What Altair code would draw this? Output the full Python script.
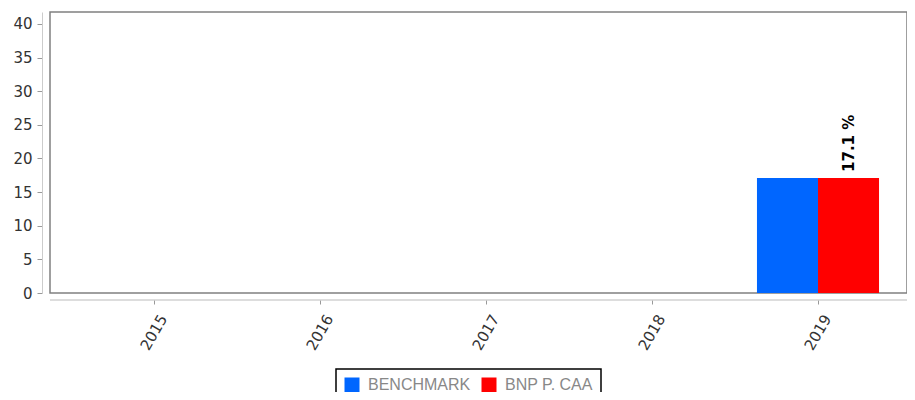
import altair as alt
import pandas as pd

years = ["2015", "2016", "2017", "2018", "2019"]
series = ["BENCHMARK", "BNP P. CAA"]
benchmark = [None, None, None, None, 17.1]
bnp = [None, None, None, None, 17.1]
colors = ["#0066FF", "#FF0000"]
y_ticks = [0, 5, 10, 15, 20, 25, 30, 35, 40]

rows = []
for i, yr in enumerate(years):
    rows.append({"year": yr, "series": series[0], "value": benchmark[i]})
    rows.append({"year": yr, "series": series[1], "value": bnp[i]})
df = pd.DataFrame(rows)
df_lab = df[(df["series"] == series[1]) & df["value"].notna()].copy()
df_lab["label"] = df_lab["value"].map(lambda v: f"{v:.1f} %")

W, H = 857, 281

xscale = alt.Scale(domain=years, paddingInner=0, paddingOuter=0, range=[21, 851])
offscale = alt.Scale(domain=series, paddingInner=0, paddingOuter=0.36)
yscale = alt.Scale(domain=[0, 41.78], nice=False, zero=True)

x_enc = alt.X("year:N", scale=xscale, title=None,
              axis=alt.Axis(labelAngle=-60, offset=7, domain=False,
                            tickColor="#999999", tickSize=4, labelFontSize=15,
                            labelAlign="center", labelBaseline="middle",
                            labelColor="#333333", labelFont="DejaVu Sans", labelPadding=28))
y_enc = alt.Y("value:Q", scale=yscale, title=None,
              axis=alt.Axis(values=y_ticks, labelOverlap=False, offset=8, grid=False,
                            domainColor="#cccccc", tickColor="#999999", tickSize=5,
                            labelFontSize=15, labelColor="#333333",
                            labelFont="DejaVu Sans", labelPadding=5))
off_enc = alt.XOffset("series:N", scale=offscale)

bars = alt.Chart(df).mark_bar(stroke=None).encode(
    x=x_enc,
    xOffset=off_enc,
    y=y_enc,
    color=alt.Color("series:N", scale=alt.Scale(domain=series, range=colors), title=None,
                    legend=alt.Legend(orient="none", legendX=286, legendY=357,
                                      direction="horizontal", symbolType="square",
                                      symbolSize=225, symbolStrokeWidth=0,
                                      labelFontSize=16, labelColor="#888888",
                                      labelFont="Liberation Sans", columnPadding=10,
                                      labelOffset=8, padding=8, strokeColor="#000000",
                                      symbolOpacity=1)),
)

labels = alt.Chart(df_lab).mark_text(angle=270, align="left", baseline="middle",
                                     dx=6, fontSize=15, fontWeight="bold",
                                     font="DejaVu Sans", color="#000000").encode(
    x=x_enc,
    xOffset=off_enc,
    y=y_enc,
    text="label:N",
)

xline = alt.Chart(pd.DataFrame({"k": [0]})).mark_rule(color="#bbbbbb", strokeWidth=1).encode(
    x=alt.value(0), x2=alt.value(W), y=alt.value(H + 7))

chart = alt.layer(bars, labels, xline).properties(
    width=W, height=H,
    autosize=alt.AutoSizeParams(type="none"),
    padding={"left": 42, "top": 4, "right": 0, "bottom": 99},
).configure_view(stroke="#808080", strokeWidth=1.5).configure_legend(
    strokeWidth=1.5, cornerRadius=0)

chart.save("out.html", embed_options={"renderer": "svg", "actions": False})
